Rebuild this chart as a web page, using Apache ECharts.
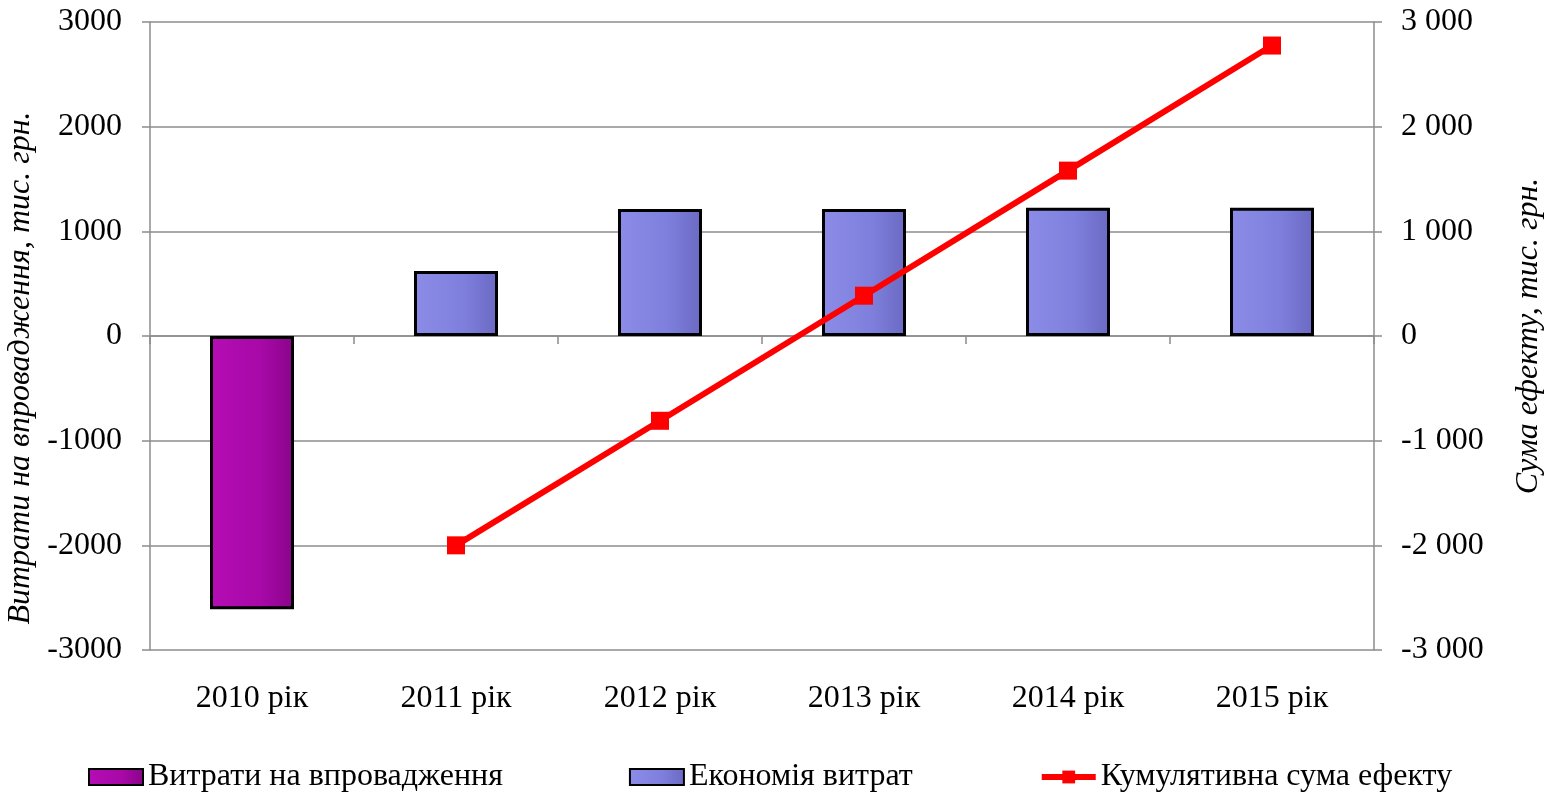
<!DOCTYPE html>
<html>
<head>
<meta charset="utf-8">
<script src="https://cdn.jsdelivr.net/npm/echarts@6/dist/echarts.min.js"></script>
<style>
  html, body { margin: 0; padding: 0; background: #fff; }
  #chart { width: 1549px; height: 792px; }
</style>
</head>
<body>
<div id="chart"></div>
<script>
const years = ['2010 рік', '2011 рік', '2012 рік', '2013 рік', '2014 рік', '2015 рік']
const costs = [-2610, '-', '-', '-', '-', '-']
const savings = ['-', 620, 1213, 1213, 1225, 1225]
const cumulative = ['-', -2000, -810, 385, 1580, 2775]

const font = 'Liberation Serif'
const gray = '#8c8c8c'

function spaced(v){
    const s = String(Math.abs(v)).replace(/\B(?=(\d{3})+(?!\d))/g, ' ')
    return (v < 0 ? '-' : '') + s
}

const myChart = echarts.init(document.getElementById('chart'))
const option = {
    animation: false,
    textStyle: { fontFamily: font, color: '#000' },
    grid: { left: 150, right: 175, top: 22, bottom: 142, outerBoundsMode: 'none', containLabel: false },
    legend: {
        top: 756,
        left: 83,
        itemWidth: 54,
        itemHeight: 16,
        itemGap: 126,
        textStyle: { fontFamily: font, fontSize: 32, color: '#000' },
        data: [
            { name: 'Витрати на впровадження', icon: 'rect' },
            { name: 'Економія витрат', icon: 'rect' },
            { name: 'Кумулятивна сума ефекту', lineStyle: { width: 6, color: '#ff0000' } }
        ]
    },
    xAxis: [
    {
        type: 'category',
        data: years,
        position: 'bottom',
        axisLine: { show: false, onZero: false },
        axisTick: { show: false },
        axisLabel: { fontSize: 32, margin: 33, color: '#000', fontFamily: font }
    },
    {
        type: 'category',
        data: years,
        position: 'bottom',
        axisLine: { show: true, onZero: true, lineStyle: { color: gray, width: 1.5 } },
        axisTick: { show: true, length: 8, lineStyle: { color: gray, width: 1.5 } },
        axisLabel: { show: false }
    }],
    yAxis: [
    {
        type: 'value',
        min: -3000,
        max: 3000,
        interval: 1000,
        name: 'Витрати на впровадження, тис. грн.',
        nameLocation: 'middle',
        nameGap: 104,
        nameRotate: 90,
        nameTextStyle: { fontFamily: font, fontSize: 32, fontStyle: 'italic', color: '#000', padding: [0, 0, 0, -64] },
        axisLine: { show: true, lineStyle: { color: gray, width: 1.5 } },
        axisTick: { show: true, length: 8, lineStyle: { color: gray, width: 1.5 } },
        axisLabel: { fontSize: 32, margin: 28, color: '#000', fontFamily: font, formatter: v => String(v) },
        splitLine: { lineStyle: { color: gray, width: 1.5 } }
    },
    {
        type: 'value',
        min: -3000,
        max: 3000,
        interval: 1000,
        position: 'right',
        name: 'Сума ефекту, тис. грн.',
        nameLocation: 'middle',
        nameGap: 139,
        nameRotate: 90,
        nameTextStyle: { fontFamily: font, fontSize: 32, fontStyle: 'italic', color: '#000' },
        axisLine: { show: true, lineStyle: { color: gray, width: 1.5 } },
        axisTick: { show: true, length: 8, lineStyle: { color: gray, width: 1.5 } },
        axisLabel: { fontSize: 32, margin: 27, color: '#000', fontFamily: font, formatter: spaced },
        splitLine: { show: false }
    }],
    series: [
    {
        name: 'Витрати на впровадження',
        type: 'bar',
        stack: 'bars',
        barWidth: 84,
        data: costs,
        itemStyle: {
            color: new echarts.graphic.LinearGradient(0, 0, 1, 0, [
                { offset: 0, color: '#b40db4' },
                { offset: 0.6, color: '#a809a8' },
                { offset: 1, color: '#8a048a' }
            ]),
            borderColor: '#000',
            borderWidth: 3
        }
    },
    {
        name: 'Економія витрат',
        type: 'bar',
        stack: 'bars',
        barWidth: 84,
        data: savings,
        itemStyle: {
            color: new echarts.graphic.LinearGradient(0, 0, 1, 0, [
                { offset: 0, color: '#8c8ce8' },
                { offset: 0.6, color: '#7e7edc' },
                { offset: 1, color: '#6a6ac4' }
            ]),
            borderColor: '#000',
            borderWidth: 3
        }
    },
    {
        name: 'Кумулятивна сума ефекту',
        type: 'line',
        yAxisIndex: 1,
        data: cumulative,
        symbol: 'rect',
        symbolSize: 18,
        lineStyle: { color: '#ff0000', width: 6 },
        itemStyle: { color: '#ff0000' }
    }]
}
myChart.setOption(option)
</script>
</body>
</html>
